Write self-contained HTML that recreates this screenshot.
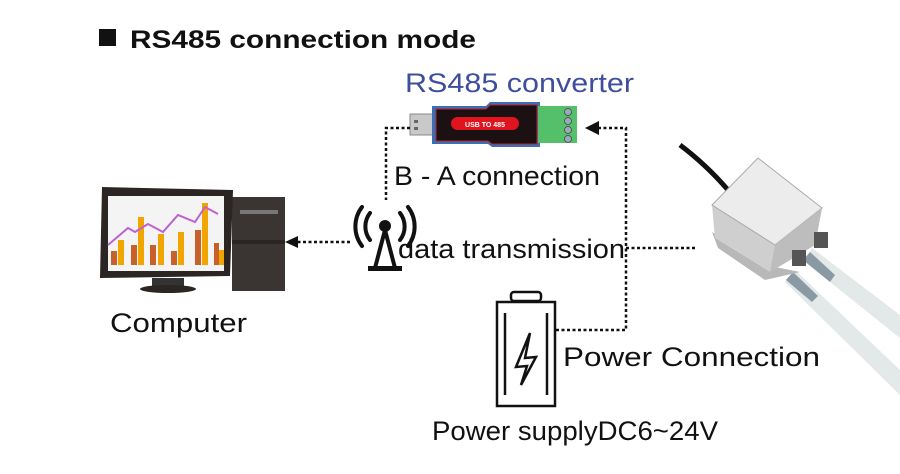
<!DOCTYPE html>
<html><head><meta charset="utf-8"><style>
html,body{margin:0;padding:0;background:#fff;}
svg{display:block}
text{font-family:"Liberation Sans","DejaVu Sans",sans-serif;}
</style></head><body>
<svg width="900" height="474" viewBox="0 0 900 474" xmlns="http://www.w3.org/2000/svg">
<rect width="900" height="474" fill="#fff"/>
<rect x="99" y="29" width="17" height="17" fill="#111"/>
<text x="130" y="48" font-size="25" font-weight="bold" fill="#111" textLength="346" lengthAdjust="spacingAndGlyphs">RS485 connection mode</text>
<text x="405" y="92" font-size="27" fill="#3e4e9c" textLength="229" lengthAdjust="spacingAndGlyphs">RS485 converter</text>

<!-- converter -->
<rect x="410" y="114" width="24" height="21" fill="#c9c9c9" stroke="#888"/>
<rect x="414" y="120" width="4" height="3" fill="#666"/><rect x="414" y="127" width="4" height="3" fill="#666"/>
<path d="M432 106 L486 106 L490 102 L540 102 L540 147 L492 147 L488 144 L432 144 Z" fill="#3a6fb5"/>
<path d="M436 109 L486 109 L490 105 L537 105 L537 144 L492 144 L488 141 L436 141 Z" fill="#1b1012" stroke="#c0202a"/>
<rect x="451" y="117" width="68" height="13" rx="6.5" fill="#e0141e"/>
<text x="485" y="127" font-size="7" font-weight="bold" fill="#fff" text-anchor="middle">USB TO 485</text>
<rect x="538" y="106" width="39" height="37" fill="#55c06a"/>
<g fill="#9ab" stroke="#444" stroke-width="0.8">
<circle cx="568" cy="112" r="3.5"/><circle cx="568" cy="121" r="3.5"/><circle cx="568" cy="130" r="3.5"/><circle cx="568" cy="139" r="3.5"/></g>

<g stroke="#111" stroke-width="2.5" stroke-dasharray="3,2.5" fill="none">
<path d="M410 128 H386 V200"/>
<path d="M598 128 H626 V330 H556"/>
<path d="M626 248 H697"/>
<path d="M350 242 H296"/>
</g>
<path d="M585 128 L599 121 L599 135 Z" fill="#111"/>
<path d="M285 242 L298 236 L298 248 Z" fill="#111"/>

<text x="394" y="185" font-size="27" fill="#111" textLength="206" lengthAdjust="spacingAndGlyphs">B - A connection</text>

<!-- antenna -->
<g stroke="#111" stroke-width="4" fill="none" stroke-linecap="round">
<path d="M370 213 A22 22 0 0 0 370 240"/><path d="M362 207 A32 32 0 0 0 362 246"/>
<path d="M400 213 A22 22 0 0 1 400 240"/><path d="M408 207 A32 32 0 0 1 408 246"/>
<path d="M385 230 L375 268 M385 230 L395 268"/>
</g>
<circle cx="385" cy="226" r="6" fill="#111"/>
<rect x="368" y="266" width="34" height="5" fill="#111"/>
<text x="398" y="258" font-size="27" fill="#111" textLength="227" lengthAdjust="spacingAndGlyphs">data transmission</text>

<!-- computer -->
<rect x="232" y="197" width="53" height="94" fill="#3a3533"/>
<rect x="240" y="210" width="38" height="4" fill="#777"/>
<rect x="232" y="240" width="53" height="4" fill="#2a2524"/>
<path d="M102 187 L233 190 L230 276 L100 278 Z" fill="#2b2624"/>
<rect x="108" y="196" width="116" height="75" fill="#f4f4f4"/>
<g fill="#f0a500"><rect x="118" y="240" width="6" height="25"/><rect x="138" y="217" width="6" height="48"/><rect x="158" y="234" width="6" height="31"/><rect x="178" y="232" width="6" height="33"/><rect x="202" y="203" width="6" height="62"/><rect x="219" y="250" width="5" height="15"/></g>
<g fill="#c8602a"><rect x="111" y="251" width="6" height="14"/><rect x="131" y="245" width="6" height="20"/><rect x="150" y="245" width="6" height="20"/><rect x="171" y="251" width="6" height="14"/><rect x="195" y="230" width="6" height="35"/><rect x="214" y="243" width="5" height="22"/></g>
<polyline points="108,245 128,228 135,232 148,224 163,232 178,215 195,222 205,207 218,214" fill="none" stroke="#c060d0" stroke-width="2"/>
<rect x="152" y="278" width="32" height="8" fill="#333"/>
<ellipse cx="168" cy="289" rx="28" ry="4" fill="#2b2624"/>
<text x="110" y="332" font-size="27" fill="#111" textLength="137" lengthAdjust="spacingAndGlyphs">Computer</text>

<!-- battery -->
<g fill="none" stroke="#111" stroke-width="2.5">
<rect x="511" y="292" width="30" height="9" rx="3"/>
<rect x="497" y="302" width="58" height="104"/>
<path d="M505 313 V395 M547 313 V395"/>
<path d="M530 333 L516 367 L527 366 L521 385 L536 357 L525 358 L530 333"/>
</g>
<text x="563" y="366" font-size="27" fill="#111" textLength="257" lengthAdjust="spacingAndGlyphs">Power Connection</text>
<text x="432" y="440" font-size="27" fill="#111" textLength="286" lengthAdjust="spacingAndGlyphs">Power supplyDC6~24V</text>

<!-- sensor -->
<path d="M680 145 C700 160 715 175 728 190" stroke="#111" stroke-width="5" fill="none"/>
<path d="M812 248 L900 315 L900 338 L805 262 Z" fill="#e3e8e8"/>
<path d="M795 270 L900 370 L900 395 L785 282 Z" fill="#e3e8e8"/>
<path d="M810 252 L835 275 L830 282 L803 260 Z" fill="#8a9aa4"/>
<path d="M793 272 L818 296 L812 302 L786 280 Z" fill="#8a9aa4"/>
<path d="M712 232 L765 265 L800 272 L765 280 L718 248 Z" fill="#b8b8b8"/>
<path d="M712 205 L758 158 L822 208 L815 245 L770 272 L715 238 Z" fill="#cfcfcf"/>
<path d="M712 205 L758 158 L822 208 L775 245 Z" fill="#ececec" stroke="#aaa"/>
<path d="M775 245 L822 208 L815 245 L770 272 Z" fill="#bdbdbd"/>
<rect x="792" y="250" width="14" height="16" fill="#555"/>
<rect x="814" y="232" width="14" height="16" fill="#555"/>
</svg>
</body></html>
